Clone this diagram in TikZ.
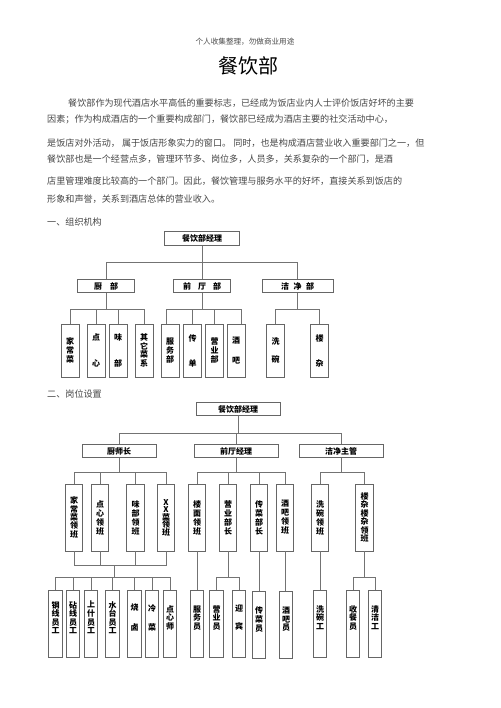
\documentclass[tikz,border=0pt]{standalone}
\usepackage{fontspec}
\setmainfont{Noto Sans CJK SC}
\usetikzlibrary{calc}
\makeatletter
% vertical text, one character per line
\newcommand{\vstack}[2][8.6pt]{\vbox{\baselineskip=#1\lineskiplimit=-20pt\lineskip=0pt\relax
	\@tfor\vchar:=#2\do{\hbox to 1em{\hss\vchar\hss}}}}
\makeatother
\tikzset{
	link/.style={draw=black!55,line width=0.6pt},
	bodytext/.style={anchor=west,inner sep=0pt,text=black!72,font=\fontsize{9.1}{9.1}\selectfont},
	topbox/.style={draw=black!60,line width=0.7pt,minimum width=#1,minimum height=13.5pt,inner sep=0pt,font=\fontsize{8}{8}\selectfont\bfseries},
	deptbox/.style={topbox=#1},
	postbox/.style={draw=black!60,line width=0.7pt,minimum width=18pt,minimum height=#1,inner sep=0pt,
		font=\fontsize{8}{8.6}\selectfont\bfseries},
	postbox/.default=53pt,
	staffbox/.style={postbox=67pt,minimum width=13.5pt,text depth=12pt},
}

\begin{document}
\begin{tikzpicture}[x=1pt,y=-1pt]
	\fill[white] (0,0) rectangle (500,708);
	\useasboundingbox (0,0) rectangle (500,708);
	
	% page text
	\node[inner sep=0pt,text=black!70,font=\fontsize{7.6}{7.6}\selectfont] (hdr) at (245,42) {个人收集整理，勿做商业用途};
	\node[inner sep=0pt,font=\fontsize{20}{20}\selectfont] (ttl) at (248,66) {餐饮部};
	\node[bodytext] (p1) at (68,103) {餐饮部作为现代酒店水平高低的重要标志，已经成为饭店业内人士评价饭店好坏的主要};
	\node[bodytext] (p2) at (47,119) {因素；作为构成酒店的一个重要构成部门，餐饮部已经成为酒店主要的社交活动中心，};
	\node[bodytext] (p3) at (47,143) {是饭店对外活动， 属于饭店形象实力的窗口。 同时，也是构成酒店营业收入重要部门之一，但};
	\node[bodytext] (p4) at (47,159) {餐饮部也是一个经营点多，管理环节多、岗位多，人员多，关系复杂的一个部门，是酒};
	\node[bodytext] (p5) at (47,181) {店里管理难度比较高的一个部门。因此，餐饮管理与服务水平的好坏，直接关系到饭店的};
	\node[bodytext] (p6) at (47,199) {形象和声誉，关系到酒店总体的营业收入。};
	\node[bodytext] (sec1) at (47,222) {一、组织机构};
	\node[bodytext] (sec2) at (47,394) {二、岗位设置};
	
	% 组织机构
	\node[topbox=75pt] (om) at (202,238.5) {餐饮部经理};
	\node[deptbox=57pt] (ok) at (106,286) {厨\quad 部};
	\node[deptbox=57pt] (of) at (202,286) {前\hspace{7pt}厅\hspace{7pt}部};
	\node[deptbox=71pt] (oj) at (297.5,286) {洁\hspace{4.5pt}净\hspace{4.5pt}部};
	
	\node[postbox] (oc1) at (70,350.5) {\vstack{家常菜}};
	\node[postbox] (oc2) at (96,350.5) {\vstack[25.5pt]{点心}};
	\node[postbox] (oc3) at (118,350.5) {\vstack[25.5pt]{味部}};
	\node[postbox] (oc4) at (144,350.5) {\vstack{其它菜系}};
	\node[postbox] (of1) at (170,350.5) {\vstack[9.2pt]{服务部}};
	\node[postbox] (of2) at (192.5,350.5) {\vstack[25pt]{传单}};
	\node[postbox] (of3) at (214.5,350.5) {\vstack[9.2pt]{营业部}};
	\node[postbox] (of4) at (236,350.5) {\vstack[20pt]{酒吧}};
	\node[postbox] (oj1) at (275.5,350.5) {\vstack[18pt]{洗碗}};
	\node[postbox] (oj2) at (319.5,350.5) {\vstack[25pt]{楼杂}};
	
	\coordinate (obus) at (202,262);
	\coordinate (okbus) at (106,309);
	\coordinate (ofbus) at (202,309);
	\coordinate (ojbus) at (297.5,309);
	\draw[link] (om.south) -- (obus);
	\draw[link] (obus) -| (ok.north);
	\draw[link] (obus) -- (of.north);
	\draw[link] (obus) -| (oj.north);
	\draw[link] (ok.south) -- (okbus);
	\draw[link] (of.south) -- (ofbus);
	\draw[link] (oj.south) -- (ojbus);
	\foreach \n in {oc1,oc2,oc3,oc4}
		\draw[link] (okbus) -| (\n.north);
	\draw[link] (ofbus) -| ([xshift=-4pt]of1.north);
	\draw[link] (ofbus) -| (of2.north);
	\draw[link] (ofbus) -| (of3.north);
	\draw[link] (ofbus) -| ([xshift=5pt]of4.north);
	\foreach \n in {oj1,oj2}
		\draw[link] (ojbus) -| (\n.north);
	
	% 岗位设置
	\node[topbox=84pt] (pm) at (238,409) {餐饮部经理};
	\node[deptbox=74pt] (pk) at (119,451) {厨师长};
	\node[deptbox=84pt] (pf) at (236,451) {前厅经理};
	\node[deptbox=84pt] (pc) at (341,451) {洁净主管};
	
	\node[postbox=67pt,minimum width=17.5pt] (k1) at (74,517.5) {\vstack[8.4pt]{家常菜领班}};
	\node[postbox=67pt,minimum width=17.5pt] (k2) at (100,517.5) {\vstack[9pt]{点心领班}};
	\node[postbox=67pt,minimum width=17.5pt] (k3) at (135.5,517.5) {\vstack[9pt]{味部领班}};
	\node[postbox=67pt,minimum width=17.5pt] (k4) at (166,517.5) {\vstack[7.5pt]{XX菜领班}};
	\node[postbox=67pt,minimum width=17.5pt] (q1) at (197,517.5) {\vstack[9pt]{楼面领班}};
	\node[postbox=67pt,minimum width=17.5pt] (q2) at (228,517.5) {\vstack[9pt]{营业部长}};
	\node[postbox=67pt,minimum width=17.5pt] (q3) at (259,517.5) {\vstack[9pt]{传菜部长}};
	\node[postbox=67pt,minimum width=17.5pt] (q4) at (285,517.5) {\vstack[9pt]{酒吧领班}};
	\node[postbox=67pt,minimum width=17.5pt] (c1) at (320,517.5) {\vstack[9pt]{洗碗领班}};
	\node[postbox=67pt,minimum width=17.5pt] (c2) at (364.5,517.5) {\vstack[8.4pt]{楼杂楼杂领班}};
	
	\node[staffbox] (w1) at (55.5,623.5) {\vstack{钢线员工}};
	\node[staffbox] (w2) at (73,623.5) {\vstack{砧线员工}};
	\node[staffbox] (w3) at (91,623.5) {\vstack{上什员工}};
	\node[staffbox] (w4) at (112.5,623.5) {\vstack{水台员工}};
	\node[staffbox] (w5) at (134.5,623.5) {\vstack[20pt]{烧卤}};
	\node[staffbox] (w6) at (152,623.5) {\vstack[19pt]{冷菜}};
	\node[staffbox] (w7) at (170,623.5) {\vstack{点心师}};
	\node[staffbox] (s1) at (197,623.5) {\vstack{服务员}};
	\node[staffbox] (s2) at (216.5,623.5) {\vstack{营业员}};
	\node[staffbox] (s3) at (239,623.5) {\vstack[18pt]{迎宾}};
	\node[staffbox] (s4) at (259,625) {\vstack{传菜员}};
	\node[staffbox] (s5) at (286,625) {\vstack{酒吧员}};
	\node[staffbox] (s6) at (320,623.5) {\vstack{洗碗工}};
	\node[staffbox] (s7) at (353,623.5) {\vstack{收餐员}};
	\node[staffbox] (s8) at (375,623.5) {\vstack{清洁工}};
	
	\coordinate (pbus) at (238,433);
	\coordinate (pkbus) at (119,472);
	\coordinate (pfbus) at (236,472);
	\coordinate (pcbus) at (341,472);
	\draw[link] (pm.south) -- (pbus);
	\draw[link] (pbus) -| (pk.north);
	\draw[link] (pbus) -| (pf.north);
	\draw[link] (pbus) -| (pc.north);
	\draw[link] (pk.south) -- (pkbus);
	\draw[link] (pf.south) -- (pfbus);
	\draw[link] (pc.south) -- (pcbus);
	\foreach \n in {k1,k2,k3,k4}
		\draw[link] (pkbus) -| (\n.north);
	\foreach \n in {q1,q2,q3,q4}
		\draw[link] (pfbus) -| (\n.north);
	\foreach \n in {c1,c2}
		\draw[link] (pcbus) -| (\n.north);
	
	\coordinate (wbusA) at (114,565);
	\coordinate (wbusB) at (114,577);
	\foreach \n in {k1,k2,k3,k4}
		\draw[link] (\n.south) |- (wbusA);
	\draw[link] (wbusA) -- (wbusB);
	\foreach \n in {w1,w2,w3,w4,w5,w6,w7}
		\draw[link] (wbusB) -| (\n.north);
	\draw[link] (q1.south) -- (s1.north);
	\coordinate (sbus) at (228,577);
	\draw[link] (q2.south) -- (sbus);
	\draw[link] (sbus) -| (s2.north);
	\draw[link] (sbus) -| (s3.north);
	\draw[link] (q3.south) -- (s4.north);
	\draw[link] (q4.south) -- ([xshift=-1pt]s5.north);
	\draw[link] (c1.south) -- (s6.north);
	\coordinate (cbus) at (364.5,577);
	\draw[link] (c2.south) -- (cbus);
	\draw[link] (cbus) -| (s7.north);
	\draw[link] (cbus) -| (s8.north);
\end{tikzpicture}
\end{document}
